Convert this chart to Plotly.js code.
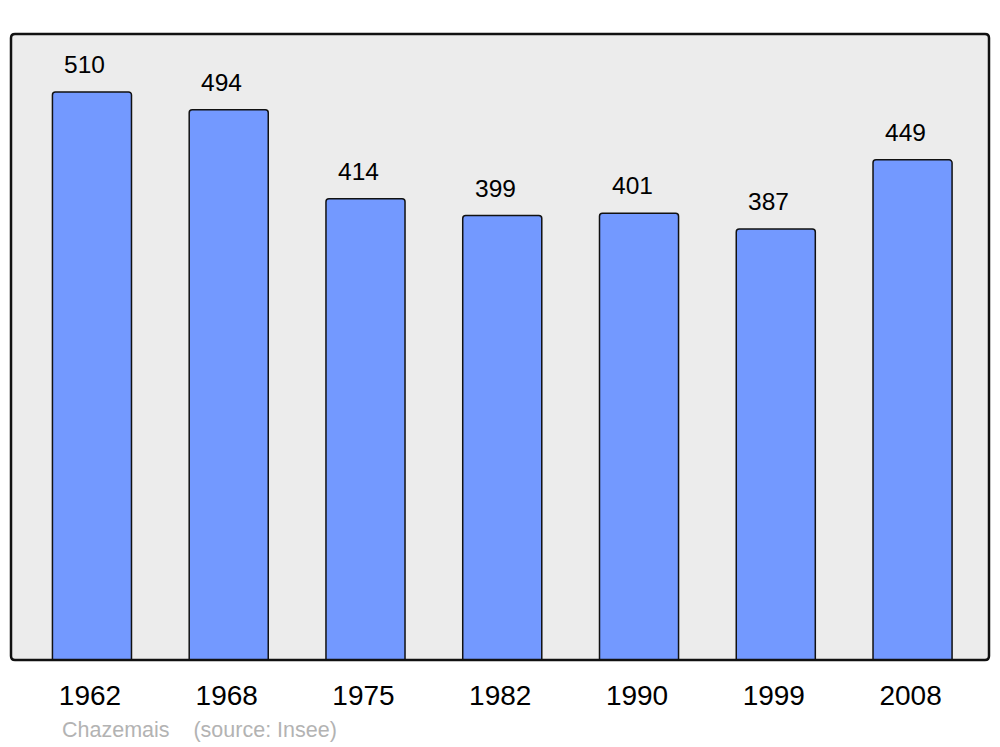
<!DOCTYPE html>
<html><head><meta charset="utf-8">
<script src="https://cdn.plot.ly/plotly-3.0.1.min.js"></script>
<style>body{margin:0;background:#fff}#c{width:1000px;height:747px}</style>
</head><body><div id="c"></div>
<script>
const years = ['1962','1968','1975','1982','1990','1999','2008'];
const population = [510, 494, 414, 399, 401, 387, 449];
const commune = 'Chazemais';
const source = '(source: Insee)';

const L = 11, R = 11, T = 34, B = 87;
const W = 1000 - L - R, H = 747 - T - B;
const rx = 4 / W, ry = 4 / H;
const framePath = `M ${rx} 0 L ${1-rx} 0 Q 1 0 1 ${ry} L 1 ${1-ry} Q 1 1 ${1-rx} 1 L ${rx} 1 Q 0 1 0 ${1-ry} L 0 ${ry} Q 0 0 ${rx} 0 Z`;
const FONT = 'Liberation Sans, Arial, sans-serif';

const data = [{
  type: 'bar',
  x: years,
  y: population,
  width: 0.578,
  marker: {color: '#7399ff', line: {color: '#111', width: 1.5}, cornerradius: 3},
  hoverinfo: 'x+y'
}];

const annotations = years.map((yr, i) => ({
  x: i, y: population[i], xref: 'x', yref: 'y',
  text: String(population[i]), showarrow: false,
  yanchor: 'bottom', yshift: 12, xshift: -7,
  font: {family: FONT, size: 24.5, color: '#000'}
}));
annotations.push({
  xref: 'paper', yref: 'paper', x: 49/W, y: -70/H, xanchor: 'left', yanchor: 'middle',
  text: commune + '&nbsp;&nbsp;&nbsp;&nbsp;' + source, showarrow: false,
  font: {family: FONT, size: 21.5, color: '#b3b3b3'}
});

const layout = {
  width: 1000, height: 747,
  margin: {l: L, r: R, t: T, b: B, pad: 0},
  paper_bgcolor: '#fff', plot_bgcolor: 'rgba(0,0,0,0)',
  showlegend: false,
  xaxis: {
    type: 'category', range: [-0.592, 6.559], showgrid: false, zeroline: false,
    showline: false, ticks: '', ticklabelstandoff: 16, ticklabelshift: -2,
    tickfont: {family: FONT, size: 28, color: '#000'}
  },
  yaxis: {range: [0, 562], showgrid: false, zeroline: false, showticklabels: false, showline: false, ticks: ''},
  shapes: [
    {type: 'path', path: framePath, xref: 'paper', yref: 'paper', layer: 'below',
     fillcolor: '#ececec', line: {width: 0}},
    {type: 'path', path: framePath, xref: 'paper', yref: 'paper', layer: 'above',
     fillcolor: 'rgba(0,0,0,0)', line: {color: '#111', width: 2.5}}
  ],
  annotations: annotations
};

Plotly.newPlot('c', data, layout, {displayModeBar: false, staticPlot: true});
</script></body></html>
